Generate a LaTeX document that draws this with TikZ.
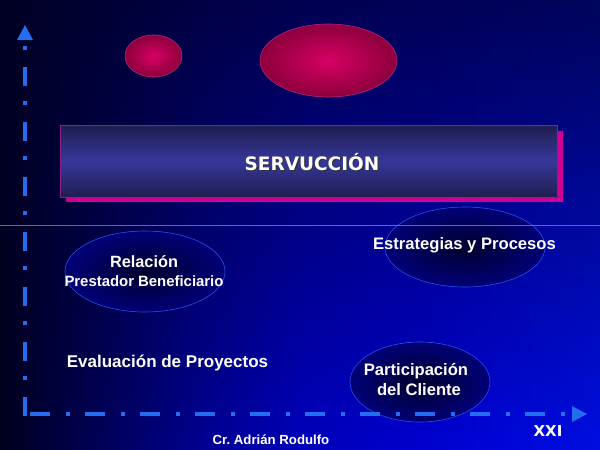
\documentclass[tikz,border=0pt]{standalone}
\usepackage{fontspec}
\setmainfont{Liberation Sans}
\newfontfamily\titlefont{DejaVu Sans}
\usetikzlibrary{shapes.geometric,shadings,fadings}
\definecolor{b0}{RGB}{0,0,30}
\definecolor{b1}{RGB}{0,0,88}
\definecolor{b2}{RGB}{0,0,145}
\definecolor{b3}{RGB}{0,0,188}
\definecolor{b4}{RGB}{0,0,204}
\definecolor{b5}{RGB}{0,6,218}
\definecolor{b6}{RGB}{0,14,226}
\definecolor{overlaydark}{RGB}{0,0,38}
\pgfdeclarehorizontalshading{bgh}{100bp}{color(0bp)=(b0); color(25bp)=(b0); color(33.33bp)=(b1); color(41.67bp)=(b2); color(50bp)=(b3); color(58.33bp)=(b4); color(66.67bp)=(b5); color(75bp)=(b6); color(100bp)=(b6)}
\tikzfading[name=topdark, top color=transparent!28, middle color=transparent!76, bottom color=transparent!100]
\definecolor{axisblue}{RGB}{35,110,240}
\definecolor{magin}{RGB}{215,0,100}
\definecolor{magout}{RGB}{140,0,60}
\definecolor{magline}{RGB}{190,30,130}
\definecolor{shadowmag}{RGB}{205,0,150}
\definecolor{boxline}{RGB}{140,30,140}
\definecolor{boxdark}{RGB}{30,30,80}
\definecolor{boxmid}{RGB}{55,55,155}
\definecolor{ellin}{RGB}{0,0,45}
\definecolor{ellout}{RGB}{0,0,120}
\definecolor{ellline}{RGB}{40,80,230}
\definecolor{hline}{RGB}{90,105,180}
\tikzset{
  pinkblob/.style={ellipse, draw=magline, line width=0.6pt, inner color=magin, outer color=magout},
  darkblob/.style={ellipse, draw=ellline, line width=0.6pt, inner color=ellin, outer color=ellout},
  lbl/.style={text=white, font=\bfseries, align=center, inner sep=0pt},
  axisline/.style={axisblue, line width=4.5pt},
}
\begin{document}
\begin{tikzpicture}[x=1pt,y=-1pt]
\useasboundingbox (0,0) rectangle (600,450);
% background
\shade[shading=bgh] (0,0) rectangle (600,450);
\fill[overlaydark, path fading=topdark] (0,0) rectangle (600,450);
% magenta ellipses
\node[pinkblob, minimum width=57pt, minimum height=42pt] (p1) at (153.5,56) {};
\node[pinkblob, minimum width=137pt, minimum height=73pt] (p2) at (328.5,60.5) {};
% title box with shadow
\fill[shadowmag] (66,131) rectangle (563,202);
\shade[top color=boxdark, bottom color=boxdark, middle color=boxmid] (60,125) rectangle (557,197);
\draw[boxline, line width=0.7pt] (60,125) rectangle (557,197);
\node[text=black!80, font=\titlefont\bfseries\fontsize{18.5}{20}\selectfont, inner sep=0pt] at (313.2,163.2) {SERVUCCIÓN};
\node[text=white, font=\titlefont\bfseries\fontsize{18.5}{20}\selectfont, inner sep=0pt] (title) at (312,162) {SERVUCCIÓN};
% dark ellipses
\node[darkblob, minimum width=160pt, minimum height=80pt] (e1) at (465,247) {};
\node[darkblob, minimum width=160pt, minimum height=81pt] (e2) at (145,271.5) {};
\node[darkblob, minimum width=140pt, minimum height=80pt] (e3) at (420,382) {};
% separator line
\draw[hline, line width=0.7pt] (0,225) -- (600,225);
% labels
\node[lbl, font=\bfseries\fontsize{16.6}{18}\selectfont] (t1) at (464.5,245) {Estrategias y Procesos};
\node[lbl, font=\bfseries\fontsize{16.3}{18}\selectfont] (t2a) at (144,262) {Relación};
\node[lbl, font=\bfseries\fontsize{14.9}{17}\selectfont] (t2b) at (144,281) {Prestador Beneficiario};
\node[lbl, font=\bfseries\fontsize{16.6}{18}\selectfont] (t3a) at (416,371) {Participación};
\node[lbl, font=\bfseries\fontsize{16.6}{18}\selectfont] (t3b) at (419,390) {del Cliente};
\node[lbl, font=\bfseries\fontsize{17}{19}\selectfont] (t4) at (167.5,363) {Evaluación de Proyectos};
\node[lbl, font=\bfseries\fontsize{13.2}{15}\selectfont] (t5) at (271,440) {Cr.\ Adrián Rodulfo};
\node[lbl, font=\titlefont\bfseries\fontsize{15}{17}\selectfont] (t6) at (548,431) {XXI};
% axes
\coordinate (corner) at (25,416);
\coordinate (ytop) at (25,42);
\coordinate (xstart) at (30,414);
\coordinate (xend) at (568,414);
\draw[axisline, dash pattern=on 19pt off 17pt on 4pt off 15pt] (corner) -- (ytop);
\draw[axisline, line width=4pt, dash pattern=on 20pt off 16pt on 4pt off 15pt] (xstart) -- (xend);
\fill[axisblue] (17,40) -- (33,40) -- (25,25) -- cycle;
\fill[axisblue] (572,406) -- (572,422) -- (587,414) -- cycle;
\end{tikzpicture}
\end{document}
